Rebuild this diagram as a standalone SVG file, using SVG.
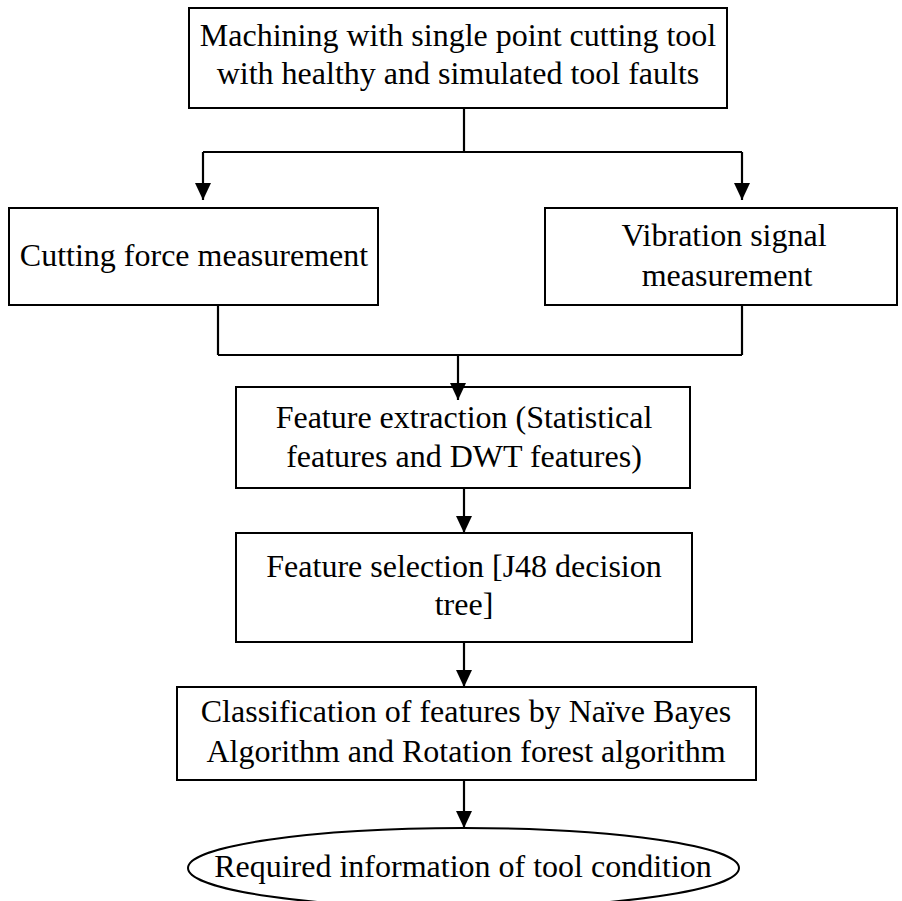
<svg xmlns="http://www.w3.org/2000/svg" width="902" height="901" viewBox="0 0 902 901">
  <defs>
    <marker id="head" markerUnits="userSpaceOnUse" markerWidth="18" markerHeight="16" refX="17" refY="8" orient="auto" viewBox="0 0 18 16">
      <path d="M0,0 L17,8 L0,16 Z" fill="#000"/>
    </marker>
  </defs>
  <style>
    .box { fill: #fff; stroke: #000; stroke-width: 2; }
    .lbl { font-family: "Liberation Serif", "Times New Roman", serif; font-size: 32px; fill: #000; text-anchor: middle; }
    .wire { fill: none; stroke: #000; stroke-width: 2.2; }
  </style>
  <rect width="902" height="901" fill="#fff"/>

  <g id="machining">
    <rect class="box" x="189" y="8" width="538" height="100"/>
    <text class="lbl" x="458" y="46">Machining with single point cutting tool</text>
    <text class="lbl" x="458" y="84">with healthy and simulated tool faults</text>
  </g>

  <g id="force">
    <rect class="box" x="9" y="208" width="369" height="97"/>
    <text class="lbl" x="194" y="266">Cutting force measurement</text>
  </g>

  <g id="vibration">
    <rect class="box" x="545" y="208" width="352" height="97"/>
    <text class="lbl" x="724" y="246">Vibration signal</text>
    <text class="lbl" x="727" y="286">measurement</text>
  </g>

  <g id="extraction">
    <rect class="box" x="236" y="387" width="454" height="101"/>
    <text class="lbl" x="464" y="428">Feature extraction (Statistical</text>
    <text class="lbl" x="464" y="467">features and DWT features)</text>
  </g>

  <g id="selection">
    <rect class="box" x="236" y="533" width="456" height="109"/>
    <text class="lbl" x="464" y="577">Feature selection [J48 decision</text>
    <text class="lbl" x="464" y="615">tree]</text>
  </g>

  <g id="classification">
    <rect class="box" x="177" y="687" width="579" height="93"/>
    <text class="lbl" x="466" y="722">Classification of features by Naïve Bayes</text>
    <text class="lbl" x="466" y="762">Algorithm and Rotation forest algorithm</text>
  </g>

  <g id="result">
    <ellipse class="box" cx="463.5" cy="868" rx="275.5" ry="40"/>
    <text class="lbl" x="463" y="877">Required information of tool condition</text>
  </g>

  <g id="connectors">
    <!-- split from the machining step -->
    <path class="wire" d="M464,108 V152"/>
    <path class="wire" d="M203,152 H742"/>
    <path class="wire" d="M203,152 V200" marker-end="url(#head)"/>
    <path class="wire" d="M742,152 V200" marker-end="url(#head)"/>
    <!-- merge of both measurements -->
    <path class="wire" d="M218,305 V355"/>
    <path class="wire" d="M742,305 V355"/>
    <path class="wire" d="M218,355 H742"/>
    <path class="wire" d="M458,355 V400" marker-end="url(#head)"/>
    <!-- straight chain downwards -->
    <path class="wire" d="M464,488 V533" marker-end="url(#head)"/>
    <path class="wire" d="M464,642 V687" marker-end="url(#head)"/>
    <path class="wire" d="M464,780 V828" marker-end="url(#head)"/>
  </g>
</svg>
